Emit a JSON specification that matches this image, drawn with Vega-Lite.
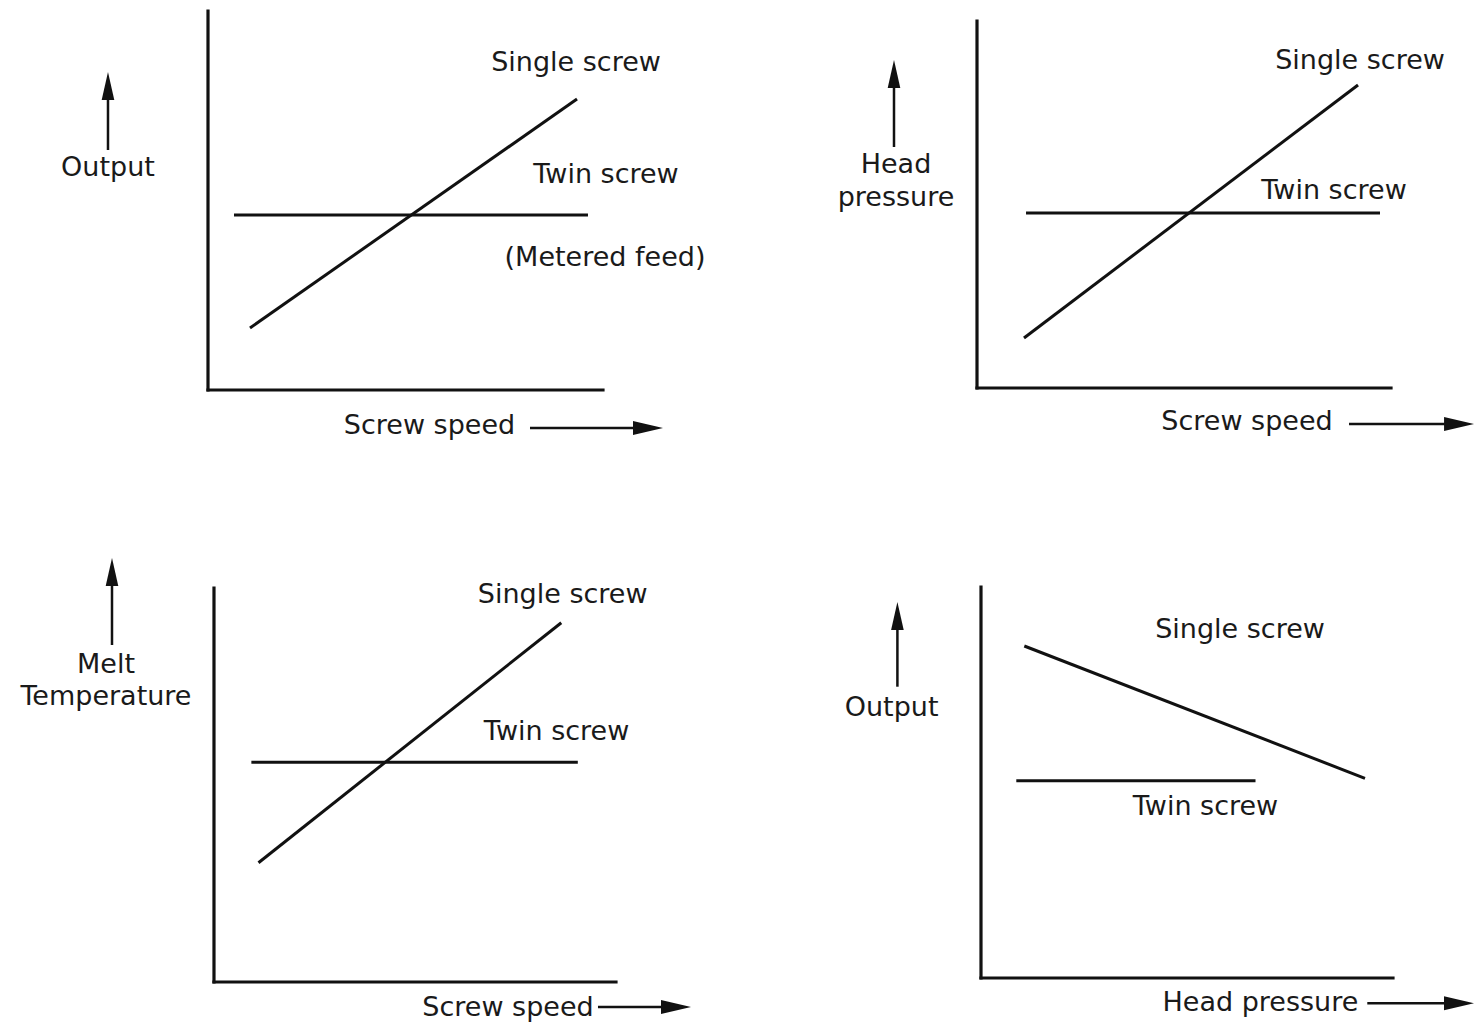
{
  "$schema": "https://vega.github.io/schema/vega-lite/v6.json",
  "padding": 0,
  "background": "white",
  "columns": 2,
  "spacing": 0,
  "bounds": "flush",
  "align": "each",
  "config": {"view": {"stroke": null}},
  "datasets": {
    "fig": [
      {"panel": "A", "kind": "axis", "x": 0, "y": 0, "x2": 10, "y2": 0},
      {"panel": "A", "kind": "axis", "x": 0, "y": 0, "x2": 0, "y2": 10},
      {"panel": "A", "kind": "curve", "series": "Single screw", "x": 1.063, "y": 1.636, "x2": 9.342, "y2": 7.678},
      {"panel": "A", "kind": "curve", "series": "Twin screw", "x": 0.658, "y": 4.617, "x2": 9.62, "y2": 4.617},
      {"panel": "A", "kind": "label", "label": "Single screw", "x": 9.316, "y": 8.628},
      {"panel": "A", "kind": "label", "label": "Twin screw", "x": 10.076, "y": 5.673},
      {"panel": "A", "kind": "label", "label": "(Metered feed)", "x": 10.051, "y": 3.483},
      {"panel": "A", "kind": "label", "label": "Output", "x": -2.532, "y": 5.858},
      {"panel": "A", "kind": "label", "label": "Screw speed", "x": 5.608, "y": -0.95},
      {"panel": "A", "kind": "shaft", "x": -2.532, "y": 6.332, "x2": -2.532, "y2": 8.021},
      {"panel": "A", "kind": "head-up", "x": -2.532, "y": 8.021},
      {"panel": "A", "kind": "shaft", "x": 8.152, "y": -1.003, "x2": 11.139, "y2": -1.003},
      {"panel": "A", "kind": "head-right", "x": 11.139, "y": -1.003},

      {"panel": "B", "kind": "axis", "x": 0, "y": 0, "x2": 10, "y2": 0},
      {"panel": "B", "kind": "axis", "x": 0, "y": 0, "x2": 0, "y2": 10},
      {"panel": "B", "kind": "curve", "series": "Single screw", "x": 1.135, "y": 1.362, "x2": 9.203, "y2": 8.256},
      {"panel": "B", "kind": "curve", "series": "Twin screw", "x": 1.184, "y": 4.768, "x2": 9.734, "y2": 4.768},
      {"panel": "B", "kind": "label", "label": "Single screw", "x": 9.251, "y": 8.91},
      {"panel": "B", "kind": "label", "label": "Twin screw", "x": 8.623, "y": 5.368},
      {"panel": "B", "kind": "label", "label": "Head", "x": -1.957, "y": 6.076},
      {"panel": "B", "kind": "label", "label": "pressure", "x": -1.957, "y": 5.177},
      {"panel": "B", "kind": "label", "label": "Screw speed", "x": 6.522, "y": -0.926},
      {"panel": "B", "kind": "shaft", "x": -2.005, "y": 6.567, "x2": -2.005, "y2": 8.556},
      {"panel": "B", "kind": "head-up", "x": -2.005, "y": 8.556},
      {"panel": "B", "kind": "shaft", "x": 8.986, "y": -0.981, "x2": 11.643, "y2": -0.981},
      {"panel": "B", "kind": "head-right", "x": 11.643, "y": -0.981},

      {"panel": "C", "kind": "axis", "x": 0, "y": 0, "x2": 10, "y2": 0},
      {"panel": "C", "kind": "axis", "x": 0, "y": 0, "x2": 0, "y2": 10},
      {"panel": "C", "kind": "curve", "series": "Single screw", "x": 1.107, "y": 3.028, "x2": 8.639, "y2": 9.119},
      {"panel": "C", "kind": "curve", "series": "Twin screw", "x": 0.93, "y": 5.576, "x2": 9.05, "y2": 5.576},
      {"panel": "C", "kind": "label", "label": "Single screw", "x": 8.674, "y": 9.822},
      {"panel": "C", "kind": "label", "label": "Twin screw", "x": 8.522, "y": 6.353},
      {"panel": "C", "kind": "label", "label": "Melt", "x": -2.687, "y": 8.046},
      {"panel": "C", "kind": "label", "label": "Temperature", "x": -2.687, "y": 7.234},
      {"panel": "C", "kind": "label", "label": "Screw speed", "x": 7.313, "y": -0.66},
      {"panel": "C", "kind": "shaft", "x": -2.537, "y": 8.553, "x2": -2.537, "y2": 10.406},
      {"panel": "C", "kind": "head-up", "x": -2.537, "y": 10.406},
      {"panel": "C", "kind": "shaft", "x": 9.552, "y": -0.635, "x2": 11.493, "y2": -0.635},
      {"panel": "C", "kind": "head-right", "x": 11.493, "y": -0.635},

      {"panel": "D", "kind": "axis", "x": 0, "y": 0, "x2": 10, "y2": 0},
      {"panel": "D", "kind": "axis", "x": 0, "y": 0, "x2": 0, "y2": 10},
      {"panel": "D", "kind": "curve", "series": "Single screw", "x": 1.051, "y": 8.491, "x2": 9.32, "y2": 5.107},
      {"panel": "D", "kind": "curve", "series": "Twin screw", "x": 0.857, "y": 5.046, "x2": 6.663, "y2": 5.046},
      {"panel": "D", "kind": "label", "label": "Single screw", "x": 6.286, "y": 8.9},
      {"panel": "D", "kind": "label", "label": "Twin screw", "x": 5.449, "y": 4.381},
      {"panel": "D", "kind": "label", "label": "Output", "x": -2.17, "y": 6.898},
      {"panel": "D", "kind": "label", "label": "Head pressure", "x": 6.782, "y": -0.647},
      {"panel": "D", "kind": "shaft", "x": -2.029, "y": 7.45, "x2": -2.029, "y2": 9.258},
      {"panel": "D", "kind": "head-up", "x": -2.029, "y": 9.258},
      {"panel": "D", "kind": "shaft", "x": 9.376, "y": -0.647, "x2": 11.602, "y2": -0.647},
      {"panel": "D", "kind": "head-right", "x": 11.602, "y": -0.647}
    ]
  },
  "concat": [
    {
      "width": 738, "height": 500,
      "data": {"name": "fig"},
      "transform": [{"filter": "datum.panel === 'A'"}],
      "encoding": {
        "x": {"field": "x", "type": "quantitative", "scale": {"domain": [-5.266, 13.418], "nice": false, "zero": false}, "axis": null},
        "y": {"field": "y", "type": "quantitative", "scale": {"domain": [-2.902, 10.29], "nice": false, "zero": false}, "axis": null}
      },
      "layer": [
        {"transform": [{"filter": "datum.kind === 'axis'"}], "mark": {"type": "rule", "strokeWidth": 3.2, "color": "#111", "strokeCap": "square"}, "encoding": {"x2": {"field": "x2"}, "y2": {"field": "y2"}}},
        {"transform": [{"filter": "datum.kind === 'curve'"}], "mark": {"type": "rule", "strokeWidth": 3, "color": "#111"}, "encoding": {"x2": {"field": "x2"}, "y2": {"field": "y2"}}},
        {"transform": [{"filter": "datum.kind === 'shaft'"}], "mark": {"type": "rule", "strokeWidth": 2.5, "color": "#111"}, "encoding": {"x2": {"field": "x2"}, "y2": {"field": "y2"}}},
        {"transform": [{"filter": "datum.kind === 'head-up'"}], "mark": {"type": "point", "filled": true, "opacity": 1, "color": "#111", "shape": "M0,-1L-0.45,1L0.45,1Z", "size": 784}},
        {"transform": [{"filter": "datum.kind === 'head-right'"}], "mark": {"type": "point", "filled": true, "opacity": 1, "color": "#111", "shape": "M1,0L-1,-0.47L-1,0.47Z", "size": 900}},
        {"transform": [{"filter": "datum.kind === 'label'"}], "mark": {"type": "text", "font": "DejaVu Sans", "fontSize": 27, "color": "#1a1a1a", "align": "center", "baseline": "middle"}, "encoding": {"text": {"field": "label"}}}
      ]
    },
    {
      "width": 739, "height": 500,
      "data": {"name": "fig"},
      "transform": [{"filter": "datum.panel === 'B'"}],
      "encoding": {
        "x": {"field": "x", "type": "quantitative", "scale": {"domain": [-5.773, 12.077], "nice": false, "zero": false}, "axis": null},
        "y": {"field": "y", "type": "quantitative", "scale": {"domain": [-3.052, 10.572], "nice": false, "zero": false}, "axis": null}
      },
      "layer": [
        {"transform": [{"filter": "datum.kind === 'axis'"}], "mark": {"type": "rule", "strokeWidth": 3.2, "color": "#111", "strokeCap": "square"}, "encoding": {"x2": {"field": "x2"}, "y2": {"field": "y2"}}},
        {"transform": [{"filter": "datum.kind === 'curve'"}], "mark": {"type": "rule", "strokeWidth": 3, "color": "#111"}, "encoding": {"x2": {"field": "x2"}, "y2": {"field": "y2"}}},
        {"transform": [{"filter": "datum.kind === 'shaft'"}], "mark": {"type": "rule", "strokeWidth": 2.5, "color": "#111"}, "encoding": {"x2": {"field": "x2"}, "y2": {"field": "y2"}}},
        {"transform": [{"filter": "datum.kind === 'head-up'"}], "mark": {"type": "point", "filled": true, "opacity": 1, "color": "#111", "shape": "M0,-1L-0.45,1L0.45,1Z", "size": 784}},
        {"transform": [{"filter": "datum.kind === 'head-right'"}], "mark": {"type": "point", "filled": true, "opacity": 1, "color": "#111", "shape": "M1,0L-1,-0.47L-1,0.47Z", "size": 900}},
        {"transform": [{"filter": "datum.kind === 'label'"}], "mark": {"type": "text", "font": "DejaVu Sans", "fontSize": 27, "color": "#1a1a1a", "align": "center", "baseline": "middle"}, "encoding": {"text": {"field": "label"}}}
      ]
    },
    {
      "width": 738, "height": 527,
      "data": {"name": "fig"},
      "transform": [{"filter": "datum.panel === 'C'"}],
      "encoding": {
        "x": {"field": "x", "type": "quantitative", "scale": {"domain": [-5.323, 13.035], "nice": false, "zero": false}, "axis": null},
        "y": {"field": "y", "type": "quantitative", "scale": {"domain": [-1.142, 12.234], "nice": false, "zero": false}, "axis": null}
      },
      "layer": [
        {"transform": [{"filter": "datum.kind === 'axis'"}], "mark": {"type": "rule", "strokeWidth": 3.2, "color": "#111", "strokeCap": "square"}, "encoding": {"x2": {"field": "x2"}, "y2": {"field": "y2"}}},
        {"transform": [{"filter": "datum.kind === 'curve'"}], "mark": {"type": "rule", "strokeWidth": 3, "color": "#111"}, "encoding": {"x2": {"field": "x2"}, "y2": {"field": "y2"}}},
        {"transform": [{"filter": "datum.kind === 'shaft'"}], "mark": {"type": "rule", "strokeWidth": 2.5, "color": "#111"}, "encoding": {"x2": {"field": "x2"}, "y2": {"field": "y2"}}},
        {"transform": [{"filter": "datum.kind === 'head-up'"}], "mark": {"type": "point", "filled": true, "opacity": 1, "color": "#111", "shape": "M0,-1L-0.45,1L0.45,1Z", "size": 784}},
        {"transform": [{"filter": "datum.kind === 'head-right'"}], "mark": {"type": "point", "filled": true, "opacity": 1, "color": "#111", "shape": "M1,0L-1,-0.47L-1,0.47Z", "size": 900}},
        {"transform": [{"filter": "datum.kind === 'label'"}], "mark": {"type": "text", "font": "DejaVu Sans", "fontSize": 27, "color": "#1a1a1a", "align": "center", "baseline": "middle"}, "encoding": {"text": {"field": "label"}}}
      ]
    },
    {
      "width": 739, "height": 527,
      "data": {"name": "fig"},
      "transform": [{"filter": "datum.panel === 'D'"}],
      "encoding": {
        "x": {"field": "x", "type": "quantitative", "scale": {"domain": [-5.898, 12.039], "nice": false, "zero": false}, "axis": null},
        "y": {"field": "y", "type": "quantitative", "scale": {"domain": [-1.253, 12.225], "nice": false, "zero": false}, "axis": null}
      },
      "layer": [
        {"transform": [{"filter": "datum.kind === 'axis'"}], "mark": {"type": "rule", "strokeWidth": 3.2, "color": "#111", "strokeCap": "square"}, "encoding": {"x2": {"field": "x2"}, "y2": {"field": "y2"}}},
        {"transform": [{"filter": "datum.kind === 'curve'"}], "mark": {"type": "rule", "strokeWidth": 3, "color": "#111"}, "encoding": {"x2": {"field": "x2"}, "y2": {"field": "y2"}}},
        {"transform": [{"filter": "datum.kind === 'shaft'"}], "mark": {"type": "rule", "strokeWidth": 2.5, "color": "#111"}, "encoding": {"x2": {"field": "x2"}, "y2": {"field": "y2"}}},
        {"transform": [{"filter": "datum.kind === 'head-up'"}], "mark": {"type": "point", "filled": true, "opacity": 1, "color": "#111", "shape": "M0,-1L-0.45,1L0.45,1Z", "size": 784}},
        {"transform": [{"filter": "datum.kind === 'head-right'"}], "mark": {"type": "point", "filled": true, "opacity": 1, "color": "#111", "shape": "M1,0L-1,-0.47L-1,0.47Z", "size": 900}},
        {"transform": [{"filter": "datum.kind === 'label'"}], "mark": {"type": "text", "font": "DejaVu Sans", "fontSize": 27, "color": "#1a1a1a", "align": "center", "baseline": "middle"}, "encoding": {"text": {"field": "label"}}}
      ]
    }
  ]
}
